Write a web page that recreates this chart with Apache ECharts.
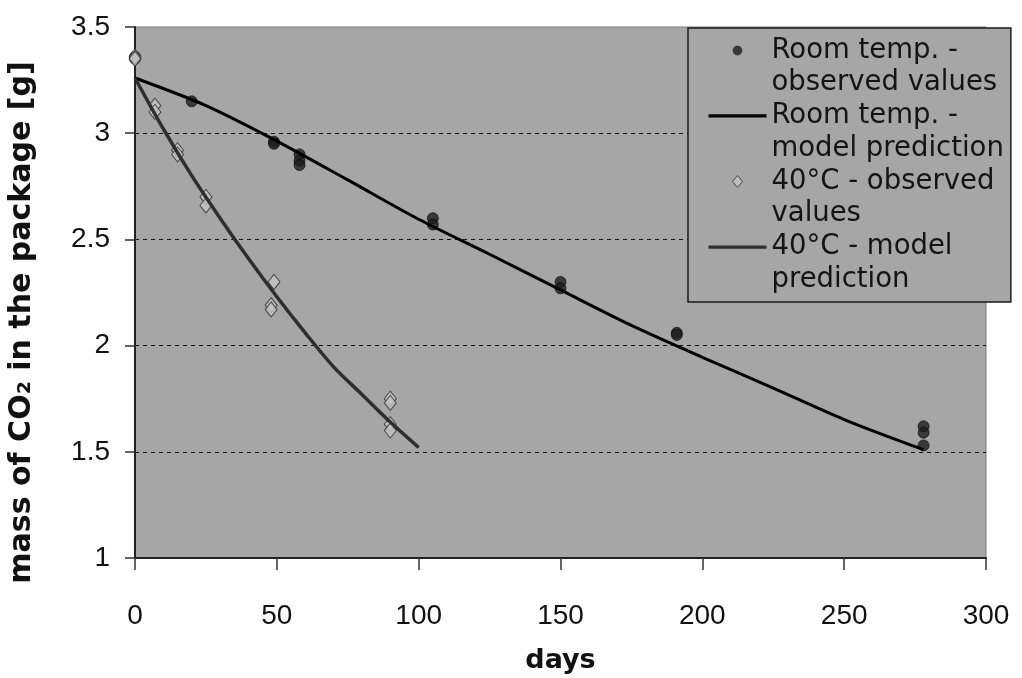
<!DOCTYPE html>
<html>
<head>
<meta charset="utf-8">
<title>CO2 mass in package</title>
<script src="https://cdn.jsdelivr.net/npm/echarts@6/dist/echarts.min.js"></script>
<style>
  html, body { margin: 0; padding: 0; background: #ffffff; }
  #chart { width: 1022px; height: 678px; }
</style>
</head>
<body>
<div id="chart"></div>
<script>
// Storage days and measured CO2 mass [g], room temperature
const roomObsDays = [0, 0, 20, 49, 49, 58, 58, 58, 105, 105, 150, 150, 191, 191, 278, 278, 278];
const roomObsMass = [3.36, 3.35, 3.15, 2.96, 2.95, 2.90, 2.87, 2.85, 2.60, 2.57, 2.30, 2.27, 2.06, 2.05, 1.62, 1.59, 1.53];

// Model curve, room temperature
const roomModelDays = [0, 25, 50, 75, 100, 125, 150, 175, 200, 225, 250, 278];
const roomModelMass = [3.26, 3.13, 2.963, 2.78, 2.595, 2.43, 2.262, 2.095, 1.945, 1.80, 1.652, 1.51];

// Measured CO2 mass at 40°C
const hotObsDays = [0, 0, 7, 7, 15, 15, 25, 25, 49, 48, 48, 90, 90, 90, 90];
const hotObsMass = [3.36, 3.35, 3.13, 3.10, 2.92, 2.90, 2.70, 2.66, 2.30, 2.19, 2.17, 1.75, 1.73, 1.63, 1.60];

// Model curve at 40°C
const hotModelDays = [0, 10, 20, 30, 40, 50, 60, 70, 80, 90, 100];
const hotModelMass = [3.26, 3.02, 2.80, 2.60, 2.41, 2.23, 2.06, 1.90, 1.77, 1.64, 1.52];

// Series names and their two-line legend captions
const seriesNames = [
  'Room temp. - observed values',
  'Room temp. - model prediction',
  '40°C - observed values',
  '40°C - model prediction'
];
const legendCaptions = {
  'Room temp. - observed values': 'Room temp. -\nobserved values',
  'Room temp. - model prediction': 'Room temp. -\nmodel prediction',
  '40°C - observed values': '40°C - observed\nvalues',
  '40°C - model prediction': '40°C - model\nprediction'
};

const xTicks = { min: 0, max: 300, step: 50 };
const yTicks = { min: 1, max: 3.5, step: 0.5 };

const zip = (xs, ys) => xs.map((x, i) => [x, ys[i]]);

// Legend icons sit beside the first caption line (icon box = 58 x 65)
const ICON_CIRCLE = 'path://M0,0M58,65M24.5,16.3A4.5,4.5,0,1,1,33.5,16.3A4.5,4.5,0,1,1,24.5,16.3Z';
const ICON_LINE = 'path://M0,0M58,65M0,14.6L58,14.6L58,18L0,18Z';
const ICON_DIAMOND = 'path://M0,0M58,65M29,10.3L34,16.3L29,22.3L24,16.3Z';

const tickFont = 'Liberation Sans, Arial, sans-serif';
const textFont = 'DejaVu Sans, sans-serif';

const chart = echarts.init(document.getElementById('chart'), null, { renderer: 'canvas' });

chart.setOption({
  backgroundColor: '#ffffff',
  animation: false,
  grid: {
    left: 135, right: 36, top: 27, bottom: 120,
    show: true,
    backgroundColor: '#a6a6a6',
    borderColor: '#7a7a7a',
    borderWidth: 1,
    outerBoundsMode: 'none'
  },
  legend: {
    orient: 'vertical',
    left: 688,
    top: 28,
    padding: [6, 7, 6, 20],
    itemGap: 0,
    itemWidth: 58,
    itemHeight: 65,
    symbolKeepAspect: true,
    backgroundColor: '#a6a6a6',
    borderColor: '#1a1a1a',
    borderWidth: 1.5,
    selectedMode: false,
    formatter: name => legendCaptions[name],
    textStyle: {
      fontFamily: textFont,
      fontSize: 27.5,
      lineHeight: 32.6,
      color: '#141414'
    },
    data: [
      { name: seriesNames[0], icon: ICON_CIRCLE, itemStyle: { color: '#1e1e1e', borderColor: '#000', borderWidth: 0.5 } },
      { name: seriesNames[1], icon: ICON_LINE, itemStyle: { color: '#000000', borderWidth: 0 } },
      { name: seriesNames[2], icon: ICON_DIAMOND, itemStyle: { color: '#c4c4c4', borderColor: '#2a2a2a', borderWidth: 1 } },
      { name: seriesNames[3], icon: ICON_LINE, itemStyle: { color: '#2e2e2e', borderWidth: 0 } }
    ]
  },
  xAxis: {
    type: 'value',
    min: xTicks.min,
    max: xTicks.max,
    interval: xTicks.step,
    name: 'days',
    nameLocation: 'middle',
    nameGap: 89,
    nameTextStyle: { fontFamily: textFont, fontWeight: 'bold', fontSize: 27, color: '#111' },
    axisLine: { show: true, onZero: false, lineStyle: { color: '#222', width: 2 } },
    axisTick: { show: true, inside: false, length: 12, lineStyle: { color: '#333', width: 1.5 } },
    axisLabel: { fontFamily: tickFont, fontSize: 28, color: '#111', margin: 44 },
    splitLine: { show: false }
  },
  yAxis: {
    type: 'value',
    min: yTicks.min,
    max: yTicks.max,
    interval: yTicks.step,
    name: 'mass of CO₂ in the package [g]',
    nameLocation: 'middle',
    nameRotate: 90,
    nameGap: 98,
    nameTextStyle: { fontFamily: textFont, fontWeight: 'bold', fontSize: 30, color: '#111', padding: [0, 60, 0, 0] },
    axisLine: { show: true, onZero: false, lineStyle: { color: '#222', width: 2 } },
    axisTick: { show: true, inside: false, length: 10, lineStyle: { color: '#333', width: 1.5 } },
    axisLabel: { fontFamily: tickFont, fontSize: 28, color: '#111', margin: 25 },
    splitLine: {
      show: true,
      showMinLine: false,
      showMaxLine: false,
      lineStyle: { color: '#111', width: 1, type: [4, 4] }
    }
  },
  series: [
    {
      name: seriesNames[0],
      type: 'scatter',
      symbol: 'circle',
      symbolSize: 11,
      itemStyle: { color: '#1e1e1e', borderColor: '#000', borderWidth: 0.8 },
      data: zip(roomObsDays, roomObsMass)
    },
    {
      name: seriesNames[1],
      type: 'line',
      symbol: 'none',
      smooth: 0.3,
      lineStyle: { color: '#000000', width: 3 },
      itemStyle: { color: '#000000' },
      data: zip(roomModelDays, roomModelMass)
    },
    {
      name: seriesNames[2],
      type: 'scatter',
      symbol: 'diamond',
      symbolSize: [12, 15],
      itemStyle: { color: '#c4c4c4', borderColor: '#2a2a2a', borderWidth: 1 },
      data: zip(hotObsDays, hotObsMass)
    },
    {
      name: seriesNames[3],
      type: 'line',
      symbol: 'none',
      smooth: 0.3,
      lineStyle: { color: '#2e2e2e', width: 3.5 },
      itemStyle: { color: '#2e2e2e' },
      data: zip(hotModelDays, hotModelMass)
    }
  ]
});
</script>
</body>
</html>
